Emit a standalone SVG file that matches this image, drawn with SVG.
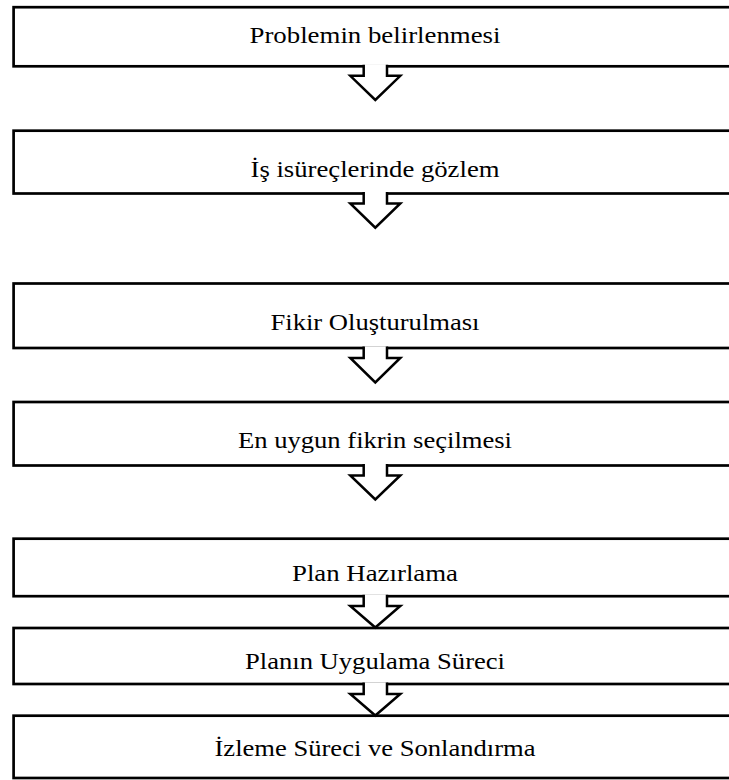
<svg xmlns="http://www.w3.org/2000/svg" width="729" height="780" viewBox="0 0 729 780">
<style>
.box{fill:#fff;stroke:#000;stroke-width:2.7}
.lbl{font-family:"Liberation Serif","Times New Roman",serif;font-size:24px;fill:#000;text-anchor:middle}
.arr{fill:#fff;stroke:#000;stroke-width:2.5;stroke-linejoin:miter;stroke-miterlimit:10}
</style>
<rect width="729" height="780" fill="#fff"/>
<g id="n1"><rect class="box" x="13.6" y="7.2" width="1200" height="59.1"/><text class="lbl" x="375" y="43" textLength="251" lengthAdjust="spacingAndGlyphs">Problemin belirlenmesi</text></g>
<g id="n2"><rect class="box" x="13.6" y="130.7" width="1200" height="62.8"/><text class="lbl" x="375" y="176.5" textLength="249" lengthAdjust="spacingAndGlyphs">İş isüreçlerinde gözlem</text></g>
<g id="n3"><rect class="box" x="13.6" y="283.5" width="1200" height="64.5"/><text class="lbl" x="375" y="329.5" textLength="209" lengthAdjust="spacingAndGlyphs">Fikir Oluşturulması</text></g>
<g id="n4"><rect class="box" x="13.6" y="402" width="1200" height="63.5"/><text class="lbl" x="375" y="447.5" textLength="274" lengthAdjust="spacingAndGlyphs">En uygun fikrin seçilmesi</text></g>
<g id="n5"><rect class="box" x="13.6" y="538.7" width="1200" height="57.5"/><text class="lbl" x="375" y="581" textLength="166" lengthAdjust="spacingAndGlyphs">Plan Hazırlama</text></g>
<g id="n6"><rect class="box" x="13.6" y="628" width="1200" height="56"/><text class="lbl" x="375" y="668.5" textLength="260" lengthAdjust="spacingAndGlyphs">Planın Uygulama Süreci</text></g>
<g id="n7"><rect class="box" x="13.6" y="715.7" width="1200" height="62.3"/><text class="lbl" x="375" y="755.5" textLength="321" lengthAdjust="spacingAndGlyphs">İzleme Süreci ve Sonlandırma</text></g>
<g id="connectors">
<path class="arr" d="M363.7,64.8 L363.7,75.8 L350.3,75.8 L375.3,100 L400.3,75.8 L387,75.8 L387,64.8"/>
<path class="arr" d="M363.7,192 L363.7,203.5 L350.3,203.5 L375.3,227.7 L400.3,203.5 L387,203.5 L387,192"/>
<path class="arr" d="M363.7,346.5 L363.7,358 L350.3,358 L375.3,382.5 L400.3,358 L387,358 L387,346.5"/>
<path class="arr" d="M363.7,464 L363.7,475.5 L350.3,475.5 L375.3,499.5 L400.3,475.5 L387,475.5 L387,464"/>
<path class="arr" d="M363.7,594.7 L363.7,606 L350.3,606 L375.3,627.5 L400.3,606 L387,606 L387,594.7"/>
<path class="arr" d="M363.7,682.5 L363.7,694 L350.3,694 L375.3,715.5 L400.3,694 L387,694 L387,682.5"/>
</g>
</svg>
